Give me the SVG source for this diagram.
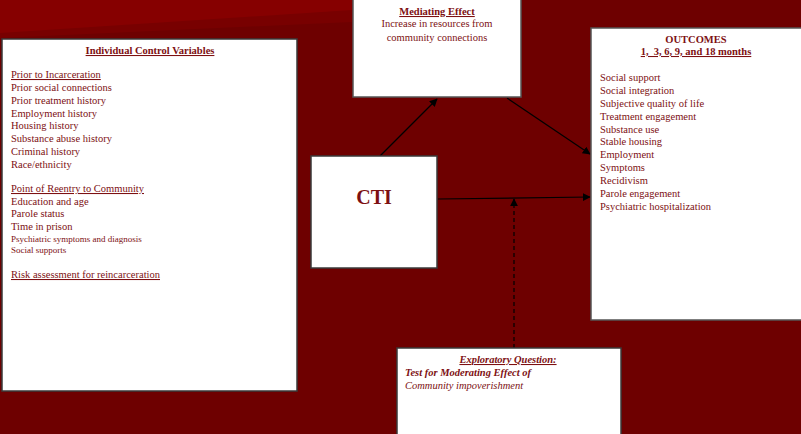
<svg xmlns="http://www.w3.org/2000/svg" width="801" height="434" viewBox="0 0 801 434">
<style>
  .box { fill: #ffffff; stroke: #3a3a3a; stroke-width: 1.5; }
  .t { font-family: "Liberation Serif", "Times New Roman", serif; fill: #7d1012; font-size: 10.5px; }
  .b { font-weight: bold; }
  .u { text-decoration: underline; }
  .i { font-style: italic; }
  .c { text-anchor: middle; }
  .sm { font-size: 9px; }
  .conn { stroke: #000000; stroke-width: 1.2; fill: none; }
</style>
<defs>
  <marker id="arr" viewBox="0 0 10 10" refX="9" refY="5" markerWidth="8" markerHeight="8" markerUnits="userSpaceOnUse" orient="auto">
    <path d="M0,0 L10,5 L0,10 z" fill="#000000"/>
  </marker>
</defs>
<rect x="0" y="0" width="801" height="434" fill="#6e0000"/>
<polygon points="0,0 352,0 352,22 0,38" fill="#780000"/>
<polygon points="0,0 352,0 352,10 0,33" fill="#860000"/>

<g id="connectors">
  <line class="conn" x1="380" y1="156" x2="437" y2="99" marker-end="url(#arr)"/>
  <line class="conn" x1="507" y1="98" x2="590" y2="154" marker-end="url(#arr)"/>
  <line class="conn" x1="438" y1="199" x2="590" y2="197" marker-end="url(#arr)"/>
  <line class="conn" x1="514" y1="348" x2="514" y2="199" stroke-dasharray="4,3" marker-end="url(#arr)"/>
</g>

<g id="controls">
  <rect class="box" x="2" y="39" width="295" height="352"/>
  <text class="t b u c" x="150" y="54">Individual Control Variables</text>
  <text class="t u" x="11" y="78">Prior to Incarceration</text>
  <text class="t" x="11" y="91">Prior social connections</text>
  <text class="t" x="11" y="104">Prior treatment history</text>
  <text class="t" x="11" y="117">Employment history</text>
  <text class="t" x="11" y="129">Housing history</text>
  <text class="t" x="11" y="142">Substance abuse history</text>
  <text class="t" x="11" y="155">Criminal history</text>
  <text class="t" x="11" y="168">Race/ethnicity</text>
  <text class="t u" x="11" y="192">Point of Reentry to Community</text>
  <text class="t" x="11" y="205">Education and age</text>
  <text class="t" x="11" y="217">Parole status</text>
  <text class="t" x="11" y="230">Time in prison</text>
  <text class="t sm" x="11" y="242">Psychiatric symptoms and diagnosis</text>
  <text class="t sm" x="11" y="253">Social supports</text>
  <text class="t u" x="11" y="278">Risk assessment for reincarceration</text>
</g>

<g id="mediating">
  <rect class="box" x="353" y="-2" width="168" height="99" style="stroke:#555"/>
  <text class="t b u c" x="437" y="15">Mediating Effect</text>
  <text class="t c" x="437" y="27">Increase in resources from</text>
  <text class="t c" x="437" y="41">community connections</text>
</g>

<g id="cti">
  <rect class="box" x="311" y="156" width="126" height="112"/>
  <text class="t b c" x="374" y="204" style="font-size:20px">CTI</text>
</g>

<g id="outcomes">
  <rect class="box" x="591" y="28" width="212" height="292" style="stroke:#555"/>
  <text class="t b c" x="696" y="43">OUTCOMES</text>
  <text class="t b u c" x="696" y="55">1,&#160; 3, 6, 9, and 18 months</text>
  <text class="t" x="600" y="81">Social support</text>
  <text class="t" x="600" y="94">Social integration</text>
  <text class="t" x="600" y="107">Subjective quality of life</text>
  <text class="t" x="600" y="120">Treatment engagement</text>
  <text class="t" x="600" y="133">Substance use</text>
  <text class="t" x="600" y="145">Stable housing</text>
  <text class="t" x="600" y="158">Employment</text>
  <text class="t" x="600" y="171">Symptoms</text>
  <text class="t" x="600" y="184">Recidivism</text>
  <text class="t" x="600" y="197">Parole engagement</text>
  <text class="t" x="600" y="210">Psychiatric hospitalization</text>
</g>

<g id="exploratory">
  <rect class="box" x="397" y="348" width="224" height="90"/>
  <text class="t b i u c" x="508" y="363">Exploratory Question:</text>
  <text class="t b i" x="405" y="376">Test for Moderating Effect of</text>
  <text class="t i" x="405" y="389">Community impoverishment</text>
</g>
</svg>
